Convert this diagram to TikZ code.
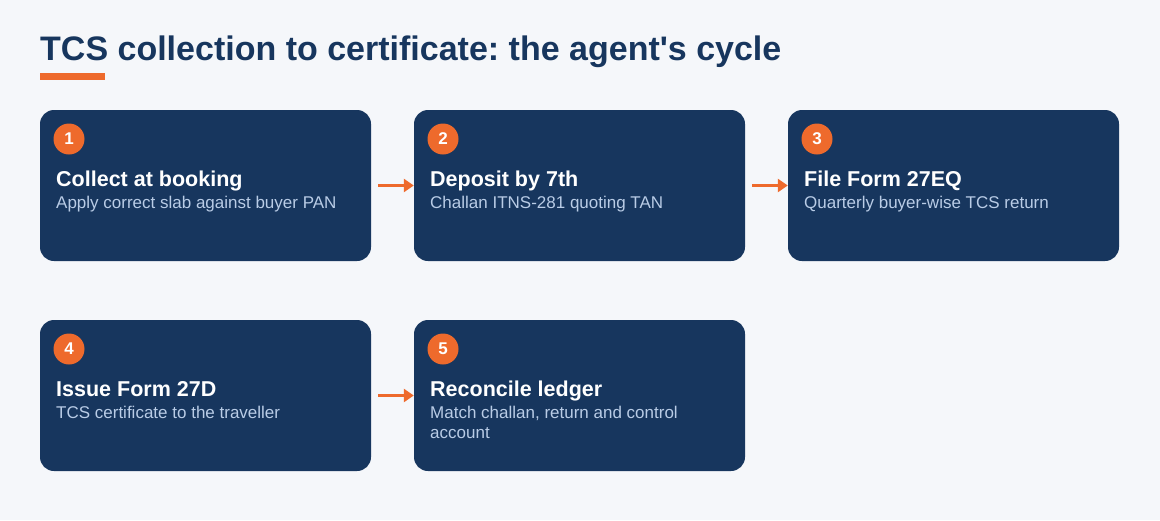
\documentclass[tikz,border=0pt]{standalone}
\usepackage{fontspec}
\setmainfont{Liberation Sans}
\usetikzlibrary{arrows.meta,positioning,calc}
\definecolor{cbg}{HTML}{F5F7FA}
\definecolor{cnavy}{HTML}{17365E}
\definecolor{corange}{HTML}{EE6A2C}
\definecolor{csub}{HTML}{B9CCE6}
\newcommand{\fsz}[2]{\fontsize{#1}{#2}\selectfont}
\frenchspacing

\begin{document}
\begin{tikzpicture}[x=1pt,y=-1pt,
    card/.style={fill=cnavy, rounded corners=14pt, minimum width=331pt, minimum height=151pt, inner sep=0pt},
    badge/.style={circle, fill=corange, text=white, minimum size=31pt, inner sep=0pt, font=\bfseries\fsz{17}{20}},
    cardtitle/.style={anchor=base west, text=white, inner sep=0pt, font=\bfseries\fsz{21.5}{24}},
    cardsub/.style={anchor=base west, text=csub, inner sep=0pt, align=left, font=\fsz{17}{20}},
    flow/.style={draw=corange, line width=3pt, -{Triangle[length=10pt,width=13pt]}, shorten <=7pt}]
  \useasboundingbox[fill=cbg] (0,0) rectangle (1160,520);
  % heading
  \node[anchor=base west, inner sep=0pt, text=cnavy, font=\bfseries\fsz{34}{40}] (head) at (40,60)
    {TCS collection to certificate: the agent\textquotesingle s cycle};
  \fill[corange] (40,73) rectangle (105,80);
  % row one
  \node[card] (c1) at (205.5,185.5) {};
  \node[card] (c2) at (579.5,185.5) {};
  \node[card] (c3) at (953.5,185.5) {};
  % row two
  \node[card] (c4) at (205.5,395.5) {};
  \node[card] (c5) at (579.5,395.5) {};
  % numbers
  \node[badge] (b1) at (69,139) {1};
  \node[badge] (b2) at (443,139) {2};
  \node[badge] (b3) at (817,139) {3};
  \node[badge] (b4) at (69,349) {4};
  \node[badge] (b5) at (443,349) {5};
  % texts
  \node[cardtitle] (t1) at (56,186) {Collect at booking};
  \node[cardsub] (s1) at (56,208) {Apply correct slab against buyer PAN};
  \node[cardtitle] (t2) at (430,186) {Deposit by 7th};
  \node[cardsub] (s2) at (430,208) {Challan ITNS-281 quoting TAN};
  \node[cardtitle] (t3) at (804,186) {File Form 27EQ};
  \node[cardsub] (s3) at (804,208) {Quarterly buyer-wise TCS return};
  \node[cardtitle] (t4) at (56,396) {Issue Form 27D};
  \node[cardsub] (s4) at (56,418) {TCS certificate to the traveller};
  \node[cardtitle] (t5) at (430,396) {Reconcile ledger};
  \node[cardsub] (s5) at (430,438) {Match challan, return and control\\account};
  % arrows
  \draw[flow] (c1) -- (c2);
  \draw[flow] (c2) -- (c3);
  \draw[flow] (c4) -- (c5);
\end{tikzpicture}
\end{document}
